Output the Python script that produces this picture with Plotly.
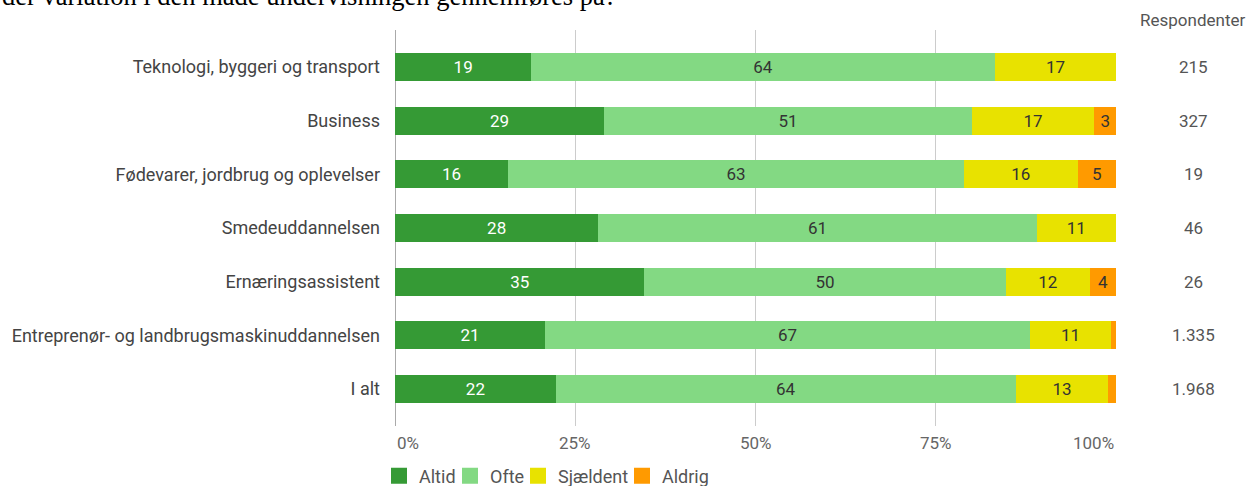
import plotly.graph_objects as go

categories = [
    "Teknologi, byggeri og transport",
    "Business",
    "Fødevarer, jordbrug og oplevelser",
    "Smedeuddannelsen",
    "Ernæringsassistent",
    "Entreprenør- og landbrugsmaskinuddannelsen",
    "I alt",
]
altid = [18.9, 29.0, 15.7, 28.2, 34.6, 20.8, 22.3]
ofte = [64.3, 51.0, 63.2, 60.8, 50.1, 67.3, 63.8]
sjaeldent = [16.8, 17.0, 15.8, 11.0, 11.7, 11.2, 12.8]
aldrig = [0.0, 3.0, 5.3, 0.0, 3.6, 0.7, 1.1]
respondenter = ["215", "327", "19", "46", "26", "1.335", "1.968"]
x_ticks = [0, 25, 50, 75, 100]
x_tick_labels = ["0%", "25%", "50%", "75%", "100%"]
title_text = "der variation i den måde undervisningen gennemføres på?"

series = [
    ("Altid", altid, "#359a35", "#ffffff"),
    ("Ofte", ofte, "#83d983", "#333333"),
    ("Sjældent", sjaeldent, "#e8e200", "#333333"),
    ("Aldrig", aldrig, "#ff9a00", "#333333"),
]
# legend placement (left edge of each legend entry, in plot-area pixels)
legend_left_px = [-16, 55, 123, 227]

fig = go.Figure()
for name, vals, color, tcolor in series:
    fig.add_trace(go.Bar(
        y=categories, x=vals, name=name, orientation="h",
        marker=dict(color=color, line=dict(width=0)),
        text=[f"{v:.0f}" if v >= 2 else "" for v in vals],
        textposition="inside", insidetextanchor="middle", textangle=0,
        textfont=dict(family="Roboto", size=17, color=tcolor),
        hoverinfo="skip", showlegend=False,
    ))

legend_layout = {}
for i, (name, vals, color, tcolor) in enumerate(series):
    key = "legend" if i == 0 else f"legend{i + 1}"
    fig.add_trace(go.Scatter(
        x=[None], y=[None], mode="markers", name=name,
        marker=dict(symbol="square", size=16, color=color, line=dict(width=0)),
        legend=key, showlegend=True, hoverinfo="skip",
    ))
    legend_layout[key] = dict(
        orientation="h", x=legend_left_px[i] / 721, xanchor="left",
        yref="container", y=1 - 476 / 486, yanchor="middle",
        font=dict(family="Roboto", size=18, color="#555555"),
        bgcolor="rgba(0,0,0,0)", borderwidth=0,
    )

annotations = []
for cat, r in zip(categories, respondenter):
    annotations.append(dict(x=1.108, xref="paper", y=cat, yref="y", text=r,
                            showarrow=False, xanchor="center", yanchor="middle",
                            font=dict(family="Roboto", size=17, color="#555555")))
annotations.append(dict(x=1.106, xref="paper", y=1.025, yref="paper", text="Respondenter",
                        showarrow=False, xanchor="center", yanchor="middle",
                        font=dict(family="Roboto", size=17, color="#555555")))
for i, (tv, tl) in enumerate(zip(x_ticks, x_tick_labels)):
    anchor = "left" if i == 0 else ("right" if i == len(x_ticks) - 1 else "center")
    annotations.append(dict(x=tv, xref="x", y=-0.043, yref="paper", text=tl,
                            showarrow=False, xanchor=anchor, yanchor="middle",
                            font=dict(family="Roboto", size=17, color="#666666")))
annotations.append(dict(x=-395 / 721, xref="paper", y=1.085, yref="paper", text=title_text,
                        showarrow=False, xanchor="left", yanchor="middle",
                        font=dict(family="Liberation Serif", size=26.5, color="#000000")))

fig.update_layout(
    width=1251, height=486,
    margin=dict(l=395, r=135, t=30, b=60, autoexpand=False),
    paper_bgcolor="white", plot_bgcolor="white",
    barmode="stack", bargap=0.48,
    font=dict(family="Roboto", size=17, color="#444444"),
    xaxis=dict(range=[0, 100], tickvals=x_ticks, showticklabels=False,
               showgrid=True, gridcolor="#cccccc", gridwidth=1,
               zeroline=True, zerolinecolor="#aaaaaa", zerolinewidth=1,
               fixedrange=True),
    yaxis=dict(categoryorder="array", categoryarray=categories,
               range=[6.69, -0.69], showgrid=False, zeroline=False,
               ticks="", ticklabelstandoff=14, automargin=False,
               tickfont=dict(family="Roboto", size=18, color="#444444")),
    annotations=annotations,
    showlegend=True,
    **legend_layout,
)

fig.write_html("out.html", config={"displayModeBar": False},
               post_script="document.body.style.margin='0';")
